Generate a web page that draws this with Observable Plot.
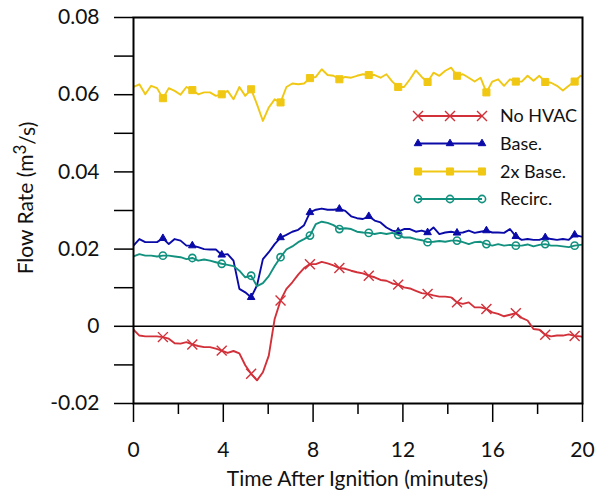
<!DOCTYPE html>
<html><head><meta charset="utf-8">
<script src="https://cdn.jsdelivr.net/npm/d3@7"></script>
<script src="https://cdn.jsdelivr.net/npm/@observablehq/plot@0.6"></script>
<style>body{margin:0;background:#fff} #chart svg{display:block}</style>
</head><body><div id="chart"></div>
<script>
// sampling grid (minutes) and marker spacing (every n-th sample)
const timeStep = 0.262;
const markerEvery = 5;

const seriesNames = ["No HVAC", "Base.", "2x Base.", "Recirc."];

const noHvac = [-0.0009,-0.0024,-0.0026,-0.0026,-0.0026,-0.0028,-0.0032,-0.0044,-0.0045,-0.0041,
 -0.0047,-0.0051,-0.0054,-0.0054,-0.0058,-0.0063,-0.0069,-0.0064,-0.0070,-0.0101,
 -0.0123,-0.0140,-0.0119,-0.0076,0.0019,0.0067,0.0097,0.0114,0.0134,0.0151,
 0.0161,0.0161,0.0167,0.0163,0.0158,0.0151,0.0149,0.0144,0.0140,0.0137,
 0.0131,0.0127,0.0120,0.0118,0.0111,0.0108,0.0101,0.0098,0.0092,0.0086,
 0.0084,0.0080,0.0077,0.0077,0.0075,0.0062,0.0058,0.0062,0.0049,0.0049,
 0.0045,0.0036,0.0032,0.0026,0.0030,0.0034,0.0022,0.0015,-0.0007,-0.0009,
 -0.0022,-0.0026,-0.0024,-0.0024,-0.0021,-0.0025,-0.0026,-0.0030];

const base = [0.0209,0.0226,0.0218,0.0218,0.0218,0.0228,0.0213,0.0226,0.0222,0.0209,
 0.0209,0.0205,0.0200,0.0199,0.0199,0.0185,0.0187,0.0170,0.0097,0.0088,
 0.0075,0.0106,0.0174,0.0192,0.0213,0.0230,0.0237,0.0245,0.0250,0.0262,
 0.0295,0.0302,0.0305,0.0302,0.0302,0.0304,0.0299,0.0285,0.0280,0.0278,
 0.0285,0.0274,0.0269,0.0256,0.0248,0.0245,0.0252,0.0252,0.0245,0.0248,
 0.0243,0.0256,0.0239,0.0243,0.0245,0.0242,0.0243,0.0248,0.0242,0.0245,
 0.0248,0.0243,0.0243,0.0242,0.0252,0.0233,0.0224,0.0226,0.0224,0.0224,
 0.0230,0.0226,0.0224,0.0226,0.0224,0.0237,0.0233,0.0230];

const base2x = [0.0620,0.0627,0.0601,0.0623,0.0617,0.0591,0.0617,0.0610,0.0600,0.0620,
 0.0612,0.0601,0.0606,0.0606,0.0597,0.0601,0.0610,0.0588,0.0620,0.0597,
 0.0614,0.0575,0.0532,0.0567,0.0588,0.0580,0.0620,0.0629,0.0627,0.0629,
 0.0643,0.0646,0.0666,0.0651,0.0649,0.0640,0.0646,0.0644,0.0649,0.0653,
 0.0651,0.0651,0.0644,0.0653,0.0634,0.0620,0.0620,0.0640,0.0663,0.0646,
 0.0633,0.0657,0.0649,0.0662,0.0670,0.0649,0.0653,0.0644,0.0634,0.0644,
 0.0606,0.0634,0.0640,0.0623,0.0640,0.0634,0.0634,0.0649,0.0636,0.0649,
 0.0633,0.0631,0.0623,0.0611,0.0623,0.0634,0.0649,0.0644];

const recirc = [0.0181,0.0187,0.0183,0.0183,0.0181,0.0183,0.0183,0.0181,0.0179,0.0174,
 0.0177,0.0170,0.0173,0.0170,0.0166,0.0162,0.0159,0.0156,0.0144,0.0127,
 0.0131,0.0104,0.0112,0.0130,0.0156,0.0179,0.0199,0.0207,0.0218,0.0226,
 0.0235,0.0265,0.0271,0.0268,0.0262,0.0252,0.0254,0.0252,0.0245,0.0243,
 0.0242,0.0239,0.0242,0.0239,0.0242,0.0237,0.0230,0.0230,0.0226,0.0223,
 0.0218,0.0219,0.0221,0.0219,0.0222,0.0222,0.0218,0.0213,0.0218,0.0219,
 0.0213,0.0209,0.0213,0.0209,0.0211,0.0209,0.0209,0.0212,0.0207,0.0211,
 0.0213,0.0209,0.0209,0.0207,0.0205,0.0209,0.0211,0.0213];

const yTicks = [-0.02, 0, 0.02, 0.04, 0.06, 0.08];
const yMinorTicks = [-0.01, 0.01, 0.03, 0.05, 0.07];
const xTicks = [0, 4, 8, 12, 16, 20];
const xMinorTicks = [2, 6, 10, 14, 18];

const xTitle = "Time After Ignition (minutes)";

// styles
const styles = [
  {color: "#d2313a", symbol: "times", r: 4.6, fill: "none", strokeWidth: 1.4},
  {color: "#0a0aa8", symbol: "triangle", r: 2.8, fill: "color", strokeWidth: 1},
  {color: "#f0c814", symbol: "square", r: 4.0, fill: "color", strokeWidth: 1},
  {color: "#13917f", symbol: "circle", r: 3.6, fill: "none", strokeWidth: 1.6}
];
const allValues = [noHvac, base, base2x, recirc];

const seriesMarks = [];
allValues.forEach((vals, k) => {
  const st = styles[k];
  const rows = vals.map((v, i) => ({t: i * timeStep, v, i}));
  seriesMarks.push(Plot.line(rows, {x: "t", y: "v", stroke: st.color, strokeWidth: 1.9, clip: true}));
  const mk = rows.filter(d => d.i > 0 && d.i % markerEvery === 0);
  seriesMarks.push(Plot.dot(mk, {
    x: "t", y: "v", symbol: st.symbol, r: st.r,
    stroke: st.color, strokeWidth: st.strokeWidth,
    fill: st.fill === "color" ? st.color : "none", clip: true
  }));
});

const chart = Plot.plot({
  width: 596, height: 499,
  marginLeft: 133, marginRight: 14, marginTop: 17, marginBottom: 96,
  x: {domain: [0, 20]},
  y: {domain: [-0.02, 0.08]},
  style: {fontFamily: "Lato", fontSize: "21px", color: "#111", background: "#fff"},
  marks: [
    Plot.ruleY([0], {stroke: "#000", strokeWidth: 1.5}),
    ...seriesMarks,
    Plot.frame({stroke: "#000", strokeWidth: 2}),
    Plot.axisX({ticks: xTicks, tickSize: 19, tickPadding: 20, tickFormat: d => String(d), label: null, strokeWidth: 1.5, stroke: "#000"}),
    Plot.axisX({ticks: xMinorTicks, tickSize: 11, tickFormat: () => "", label: null, strokeWidth: 1.5, stroke: "#000"}),
    Plot.axisY({ticks: yTicks, tickSize: 19, tickPadding: 15, tickFormat: d => d === 0 ? "0" : d.toFixed(2), label: null, strokeWidth: 1.5, stroke: "#000"}),
    Plot.axisY({ticks: yMinorTicks, tickSize: 19, tickFormat: () => "", label: null, strokeWidth: 1.5, stroke: "#000"})
  ]
});
document.getElementById("chart").appendChild(chart);

const svg = d3.select(chart);
// axis titles
svg.append("text").attr("x", 357.5).attr("y", 486).attr("text-anchor", "middle")
  .attr("font-family", "Lato").attr("font-size", 21).attr("fill", "#111").text(xTitle);
const yt = svg.append("text").attr("transform", "translate(33,198) rotate(-90)")
  .attr("text-anchor", "middle").attr("font-family", "Lato").attr("font-size", 21).attr("fill", "#111");
yt.append("tspan").text("Flow Rate (m");
yt.append("tspan").attr("dy", "-0.4em").attr("font-size", 17).text("3");
yt.append("tspan").attr("dy", "0.4em").text("/s)");

// legend
const lg = svg.append("g");
const rowY = [116, 143.5, 171.5, 199];
seriesNames.forEach((name, k) => {
  const st = styles[k];
  const y = rowY[k];
  lg.append("line").attr("x1", 418).attr("x2", 482).attr("y1", y).attr("y2", y)
    .attr("stroke", st.color).attr("stroke-width", 1.9);
  const symType = {times: d3.symbolTimes, triangle: d3.symbolTriangle, square: d3.symbolSquare, circle: d3.symbolCircle}[st.symbol];
  const path = d3.symbol(symType, Math.PI * st.r * st.r)();
  [418, 450, 482].forEach(x => {
    lg.append("path").attr("d", path).attr("transform", `translate(${x},${y})`)
      .attr("stroke", st.color).attr("stroke-width", st.strokeWidth)
      .attr("fill", st.fill === "color" ? st.color : "none");
  });
  lg.append("text").attr("x", 500).attr("y", y).attr("dy", "0.35em").attr("text-anchor", "start")
    .attr("font-family", "Lato").attr("font-size", 18).attr("fill", "#111").text(name);
});
</script>
</body></html>
